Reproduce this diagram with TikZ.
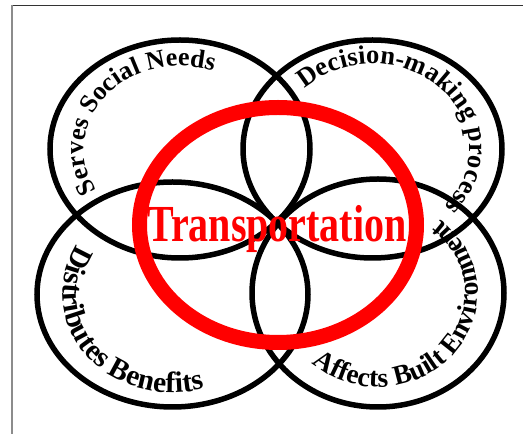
\documentclass[tikz,border=0pt]{standalone}
\usepackage{fontspec}
\setmainfont{Liberation Serif}
\usetikzlibrary{calc,decorations.text}

\begin{document}
\begin{tikzpicture}[x=1pt,y=1pt,
    ring/.style={draw=black, line width=5.5pt},
    bent/.style={decorate, decoration={text along path, text align=center, text={#1}}}]
    \useasboundingbox (0,0) rectangle (523,434);
    % page edges
    \draw [black!80] (12,429) to (523,429);
    \draw [black!45, line width=1.2pt] (12,429) to (12,0);
    % ring centres
    \coordinate (needs) at (180,285);
    \coordinate (decision) at (372.5,285);
    \coordinate (benefits) at (172.5,139.5);
    \coordinate (built) at (378,141);
    \coordinate (hubring) at (278,209);
    \draw [ring] (needs) ellipse [x radius=130, y radius=109];
    \draw [ring] (decision) ellipse [x radius=129.5, y radius=109];
    \draw [ring] (benefits) ellipse [x radius=135.5, y radius=112.5];
    \draw [ring] (built) ellipse [x radius=126, y radius=114];
    % labels bent round the rings
    \path [bent={|\fontsize{26}{26}\selectfont\bfseries|Serves Social Needs}]
        ($(needs)+(235:96 and 83)$) arc [start angle=235, end angle=45, x radius=96, y radius=83];
    \path [bent={|\fontsize{26.5}{26.5}\selectfont\bfseries|Decision-making process}]
        ($(decision)+(143:97 and 85)$) arc [start angle=143, end angle=-50, x radius=97, y radius=85];
    \path [bent={|\fontsize{27.5}{27.5}\selectfont\bfseries|Affects Built Environment}]
        ($(built)+(-140:100 and 94)$) arc [start angle=-140, end angle=60, x radius=100, y radius=94];
    \path [bent={|\fontsize{29.5}{29.5}\selectfont\bfseries|Distributes Benefits}]
        ($(benefits)+(140:110 and 98)$) arc [start angle=140, end angle=296, x radius=110, y radius=98];
    \node (hub) [anchor=base, text=red, font=\fontsize{40}{40}\selectfont\bfseries,
        yscale=1.3, transform shape, inner sep=0] at (277,192) {Transportation};
    \draw [red, line width=15pt] (hubring) ellipse [x radius=138.5, y radius=117.5];
\end{tikzpicture}
\end{document}
